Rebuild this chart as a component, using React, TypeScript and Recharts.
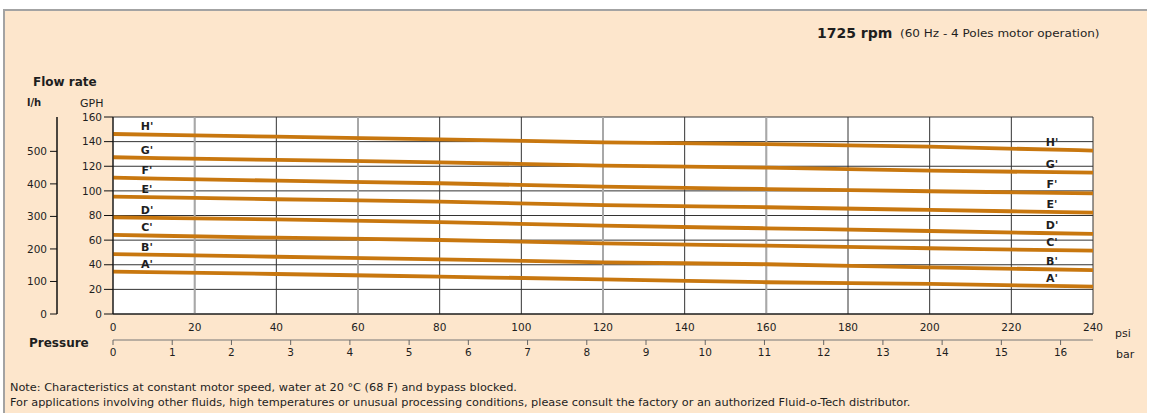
import { CartesianGrid, Line, LineChart, ReferenceLine, XAxis, YAxis } from "recharts";

// Pump curves, flow (GPH) against pressure (psi).
const PSI = [0, 40, 80, 120, 160, 200, 240];
const A_GPH = [34.4, 32.5, 30.3, 28.2, 25.8, 24.4, 22.2];
const B_GPH = [48.7, 46.5, 44.4, 42.0, 40.4, 37.9, 35.7];
const C_GPH = [64.2, 62.0, 60.1, 57.4, 55.5, 53.4, 51.4];
const D_GPH = [78.5, 76.9, 74.7, 71.7, 69.6, 67.4, 65.0];
const E_GPH = [95.3, 93.2, 91.2, 88.5, 86.7, 84.5, 82.3];
const F_GPH = [110.7, 108.3, 106.2, 103.4, 101.5, 99.7, 98.0];
const G_GPH = [127.3, 125.1, 123.2, 120.5, 118.9, 116.4, 114.8];
const H_GPH = [146.2, 144.0, 141.9, 139.4, 137.9, 135.9, 132.7];

const SERIES = [
  { key: "A", name: "A'", values: A_GPH },
  { key: "B", name: "B'", values: B_GPH },
  { key: "C", name: "C'", values: C_GPH },
  { key: "D", name: "D'", values: D_GPH },
  { key: "E", name: "E'", values: E_GPH },
  { key: "F", name: "F'", values: F_GPH },
  { key: "G", name: "G'", values: G_GPH },
  { key: "H", name: "H'", values: H_GPH },
];

const GPH_TICKS = [0, 20, 40, 60, 80, 100, 120, 140, 160];
const LPH_TICKS = [0, 100, 200, 300, 400, 500];
const PSI_TICKS = [0, 20, 40, 60, 80, 100, 120, 140, 160, 180, 200, 220, 240];
const BAR_TICKS = [0, 1, 2, 3, 4, 5, 6, 7, 8, 9, 10, 11, 12, 13, 14, 15, 16];
const LIGHT_GRID_PSI = [20, 60, 120, 160];

const LPH_PER_GPH = 3.785;
const PSI_PER_BAR = 14.5038;

const data = PSI.map((psi, i) => {
  const row: Record<string, number> = { psi, bar: psi / PSI_PER_BAR };
  SERIES.forEach((s) => (row[s.key] = s.values[i]));
  return row;
});

const FONT = "'DejaVu Sans', sans-serif";
const INK = "#1e1e1e";
const CURVE = "#c8770f";
const TICK = { fontSize: 10.5, fill: INK, fontFamily: FONT };

function endLabels(name: string, last: number) {
  return (p: any) => {
    const { cx, cy, index } = p;
    if (index === 0 || index === last) {
      const dx = index === 0 ? 34 : -41;
      const dy = index === 0 ? -7 : -8.5;
      return (
        <text
          key={`${name}-${index}`}
          x={cx + dx}
          y={cy + dy}
          textAnchor="middle"
          dominantBaseline="central"
          fontFamily={FONT}
          fontWeight="bold"
          fontSize={11}
          fill={INK}
        >
          {name}
        </text>
      );
    }
    return <g key={`${name}-${index}`} />;
  };
}

function Txt({
  x,
  y,
  size,
  bold,
  stretch = 1,
  children,
}: {
  x: number;
  y: number;
  size: number;
  bold?: boolean;
  stretch?: number;
  children: React.ReactNode;
}) {
  return (
    <div
      style={{
        position: "absolute",
        left: x,
        top: y - size / 2,
        fontSize: size,
        lineHeight: `${size}px`,
        fontWeight: bold ? "bold" : "normal",
        fontFamily: FONT,
        color: INK,
        whiteSpace: "nowrap",
        transform: `scaleX(${stretch})`,
        transformOrigin: "left center",
      }}
    >
      {children}
    </div>
  );
}

export default function App() {
  return (
    <div style={{ position: "absolute", left: 0, top: 0, width: 1149, height: 413, background: "#fff", overflow: "hidden" }}>
      <div
        style={{
          position: "absolute",
          left: 3,
          top: 9,
          width: 1142,
          height: 410,
          background: "#fde6cc",
          borderTop: "2px solid #a3a3a3",
          borderLeft: "2px solid #a3a3a3",
          borderBottomRightRadius: 6,
        }}
      />
      <Txt x={817} y={33} size={14} bold>
        1725 rpm
      </Txt>
      <Txt x={900} y={34} size={10} stretch={1.2}>
        (60 Hz - 4 Poles motor operation)
      </Txt>
      <Txt x={33} y={82} size={12} bold>
        Flow rate
      </Txt>
      <Txt x={27} y={103} size={10} bold>
        l/h
      </Txt>
      <Txt x={80} y={103} size={11}>
        GPH
      </Txt>
      <Txt x={29} y={343} size={12} bold>
        Pressure
      </Txt>
      <Txt x={1115} y={333} size={11}>
        psi
      </Txt>
      <Txt x={1116} y={354} size={11}>
        bar
      </Txt>
      <Txt x={10} y={388} size={10} stretch={1.13}>
        Note: Characteristics at constant motor speed, water at 20 °C (68 F) and bypass blocked.
      </Txt>
      <Txt x={10} y={403} size={10} stretch={1.13}>
        For applications involving other fluids, high temperatures or unusual processing conditions, please consult the
        factory or an authorized Fluid-o-Tech distributor.
      </Txt>

      <div style={{ position: "absolute", left: 0, top: 0 }}>
        <LineChart
          width={1149}
          height={413}
          data={data}
          margin={{ top: 117, right: 56, bottom: 43, left: 12 }}
          style={{ fontFamily: FONT }}
        >
          <CartesianGrid xAxisId="x0" yAxisId="y0" stroke="#333" fill="#fff" fillOpacity={1} />
          <XAxis
            xAxisId="x0"
            dataKey="psi"
            type="number"
            domain={[0, 240]}
            ticks={PSI_TICKS}
            height={26}
            tick={TICK}
            tickLine={false}
            tickSize={0}
            tickMargin={10}
            axisLine={{ stroke: "#111" }}
          />
          <XAxis
            xAxisId="x1"
            dataKey="bar"
            type="number"
            domain={[0, 240 / PSI_PER_BAR]}
            allowDataOverflow
            ticks={BAR_TICKS}
            height={30}
            tick={TICK}
            tickSize={5}
            tickMargin={4}
            tickLine={{ stroke: "#666" }}
            axisLine={{ stroke: "#777" }}
          />
          <YAxis
            yAxisId="y0"
            type="number"
            domain={[0, 160]}
            ticks={GPH_TICKS}
            width={56}
            tick={TICK}
            tickSize={9}
            tickMargin={2}
            tickLine={{ stroke: "#111" }}
            axisLine={{ stroke: "#111" }}
          />
          <YAxis
            yAxisId="y1"
            type="number"
            domain={[0, 160 * LPH_PER_GPH]}
            allowDataOverflow
            ticks={LPH_TICKS}
            width={45}
            tick={TICK}
            tickSize={7}
            tickMargin={3}
            tickLine={{ stroke: "#111" }}
            axisLine={{ stroke: "#111", strokeWidth: 1.5 }}
          />
          {LIGHT_GRID_PSI.map((v) => (
            <ReferenceLine key={v} xAxisId="x0" yAxisId="y0" x={v} stroke="#a8a8a8" strokeWidth={2} />
          ))}
          {SERIES.map((s) => (
            <Line
              key={s.key}
              xAxisId="x0"
              yAxisId="y0"
              dataKey={s.key}
              type="monotone"
              stroke={CURVE}
              strokeWidth={3.8}
              dot={endLabels(s.name, PSI.length - 1)}
              activeDot={false}
              isAnimationActive={false}
            />
          ))}
        </LineChart>
      </div>
    </div>
  );
}
